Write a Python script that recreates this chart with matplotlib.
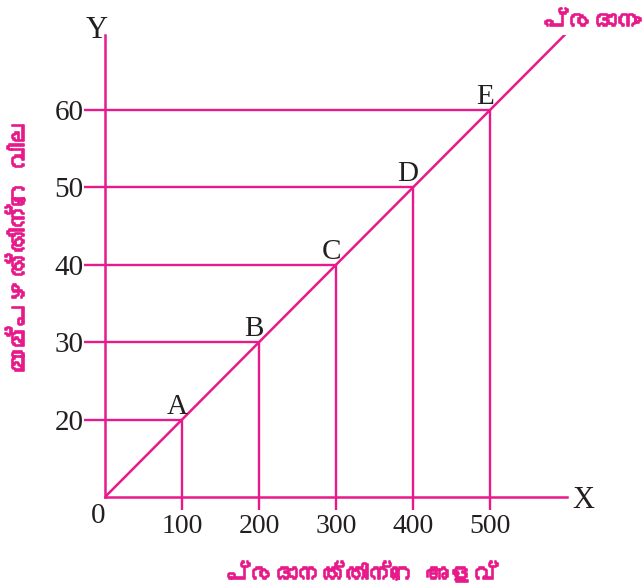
import numpy as np
import matplotlib
matplotlib.use("Agg")
import matplotlib.pyplot as plt
import matplotlib.patheffects as pe
from matplotlib import font_manager, ft2font

# ---- data ----
quantity = [100, 200, 300, 400, 500]
price = [20, 30, 40, 50, 60]
point_labels = ["A", "B", "C", "D", "E"]
xtick_labels = ["100", "200", "300", "400", "500"]
ytick_labels = ["20", "30", "40", "50", "60"]
x_title = "പ്രദാനത്തിന്റെ അളവ്"
y_title = "മാമ്പഴത്തിന്റെ വില"
curve_title = "പ്രദാനം"

PINK = "#E8198B"
DARK = "#231F20"


def find_malayalam_font():
    for f in font_manager.fontManager.ttflist:
        try:
            cm = ft2font.FT2Font(f.fname).get_charmap()
        except Exception:
            continue
        if 0x0D2A in cm and 0x0D4D in cm:
            return f.name
    return None


ml_font = find_malayalam_font()
ml_family = ([ml_font] if ml_font else []) + ["DejaVu Sans"]
serif = ["Liberation Serif", "DejaVu Serif"]
bold_fx = [pe.withStroke(linewidth=1.2, foreground=PINK)]

W, H = 642, 588
fig = plt.figure(figsize=(W / 100, H / 100), dpi=100)
x0, x1 = 105, 567
y0, y1 = 497, 35
ax = fig.add_axes([x0 / W, (H - y0) / H, (x1 - x0) / W, (y0 - y1) / H])

px_per_10 = (497 - 110) / 5.0
ybot = 10
ytop = ybot + (y0 - y1) / px_per_10 * 10
ax.set_xlim(0, 600)
ax.set_ylim(ybot, ytop)

# supply line through the points, extended over the axis range
slope, intercept = np.polyfit(quantity, price, 1)
xs = np.array(ax.get_xlim())
ax.plot(xs, intercept + slope * xs, color=PINK, lw=1.8, solid_capstyle="butt")

# guide lines
ax.hlines(price, 0, quantity, color=PINK, lw=1.7)
ax.vlines(quantity, ybot, price, color=PINK, lw=1.7)

for s in ["top", "right"]:
    ax.spines[s].set_visible(False)
for s in ["left", "bottom"]:
    ax.spines[s].set_color(PINK)
    ax.spines[s].set_linewidth(1.8)

ax.set_xticks(quantity)
ax.set_xticklabels(xtick_labels, family=serif, color=DARK)
ax.set_yticks(price)
ax.set_yticklabels(ytick_labels, family=serif, color=DARK)
ax.tick_params(axis="x", length=9.5, width=1.7, color=PINK, pad=3, labelsize=20)
ax.tick_params(axis="y", length=15, width=1.7, color=PINK, pad=0.5, labelsize=21)

for lab, q, p in zip(point_labels, quantity, price):
    ax.annotate(lab, (q, p), xytext=(-3.5, 0), textcoords="offset points",
                ha="center", va="bottom", fontsize=21, family=serif, color=DARK)

fig.text(97 / W, 1 - 31 / H, "Y", ha="center", va="center", fontsize=22, family=serif, color=DARK)
fig.text(583 / W, 1 - 500 / H, "X", ha="center", va="center", fontsize=22, family=serif, color=DARK)
fig.text(98 / W, 1 - 516 / H, "0", ha="center", va="center", fontsize=21, family=serif, color=DARK)

fig.text(362 / W, 1 - 574 / H, x_title, ha="center", va="center", fontsize=17,
         fontweight="bold", family=ml_family, color=PINK, path_effects=bold_fx)
fig.text(19 / W, 1 - 248 / H, y_title, ha="center", va="center", rotation=90, fontsize=17.5,
         fontweight="bold", family=ml_family, color=PINK, path_effects=bold_fx)
fig.text(592 / W, 1 - 22 / H, curve_title, ha="center", va="center", fontsize=17.5,
         fontweight="bold", family=ml_family, color=PINK, path_effects=bold_fx)

fig.savefig("out.png", dpi=100)
